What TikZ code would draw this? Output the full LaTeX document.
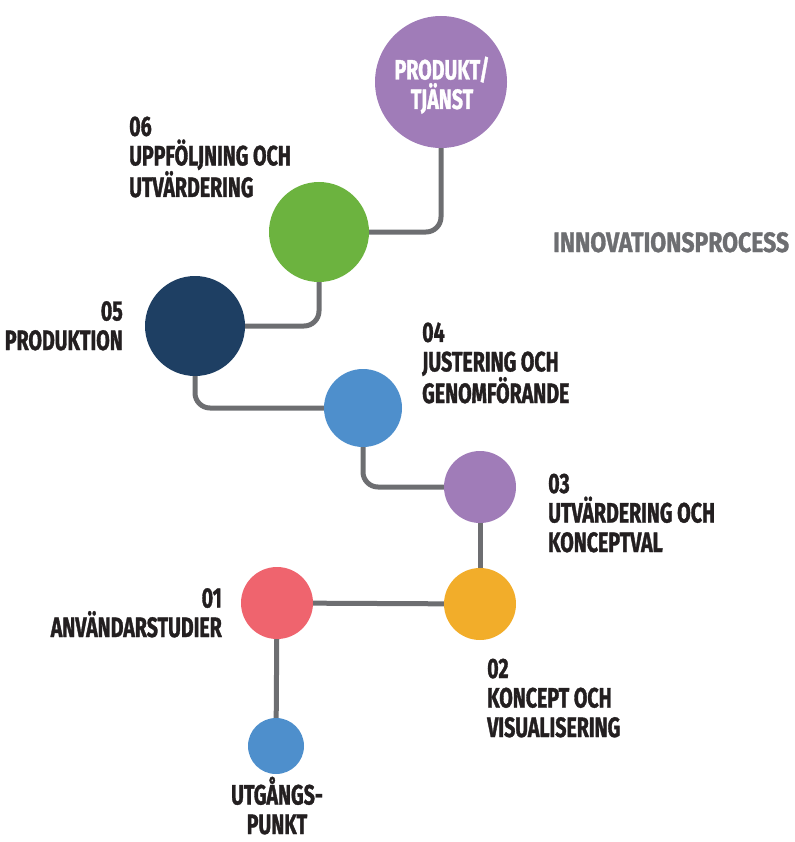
\documentclass[tikz,border=0pt]{standalone}
\usepackage{fontspec}
\newfontfamily\lblfont[FakeStretch=0.7,FakeBold=1.2]{Fira Sans}
\newfontfamily\ttlfont[FakeStretch=0.82,FakeBold=1.2]{Fira Sans}
\definecolor{cpurple}{HTML}{A07CB8}
\definecolor{cgreen}{HTML}{6CB33F}
\definecolor{cnavy}{HTML}{1E3F63}
\definecolor{cblue}{HTML}{4E8FCC}
\definecolor{corange}{HTML}{F2AD2A}
\definecolor{cred}{HTML}{EF646E}
\definecolor{cline}{HTML}{6D6E71}
\definecolor{ctext}{HTML}{231F20}
\begin{document}
\begin{tikzpicture}[x=1pt,y=-1pt,
  dot/.style={shape=circle,inner sep=0pt},
  lbl/.style={inner sep=0pt,text=ctext,font=\lblfont\bfseries\fontsize{28}{29.5}\selectfont},
  conn/.style={draw=cline,line width=5pt,rounded corners=15pt}]
\useasboundingbox (0,0) rectangle (794,842);
\node [dot,fill=cpurple,minimum size=132pt,name=n7] at (441,82){};
\node [dot,fill=cgreen,minimum size=100pt,name=n6] at (319,232){};
\node [dot,fill=cnavy,minimum size=100pt,name=n5] at (195,326){};
\node [dot,fill=cblue,minimum size=78pt,name=n4] at (363,408){};
\node [dot,fill=cpurple,minimum size=72pt,name=n3] at (480,487){};
\node [dot,fill=corange,minimum size=72pt,name=n2] at (480,604){};
\node [dot,fill=cred,minimum size=72pt,name=n1] at (277,603){};
\node [dot,fill=cblue,minimum size=56pt,name=n0] at (276,746){};
\draw[conn] (n7.south) |- (n6.east);
\draw[conn] (n6.south) |- (n5.east);
\draw[conn] (n5.south) |- (n4.west);
\draw[conn] (n4.south) |- (n3.west);
\draw[conn] (n3) -- (n2);
\draw[conn] (n2) -- (n1);
\draw[conn] (n1) -- (n0);
\node [lbl,text=white,align=center,anchor=base,name=t7] at (442,109){PRODUKT/\\TJÄNST};
\node [lbl,align=left,anchor=base west,name=t6] at (129,197){06\\UPPFÖLJNING OCH\\UTVÄRDERING};
\node [lbl,align=right,anchor=base east,name=t5] at (123,350){05\\PRODUKTION};
\node [lbl,align=left,anchor=base west,name=t4] at (422,403){04\\JUSTERING OCH\\GENOMFÖRANDE};
\node [lbl,align=left,anchor=base west,name=t3] at (548,552){03\\UTVÄRDERING OCH\\KONCEPTVAL};
\node [lbl,align=left,anchor=base west,name=t2] at (487,737){02\\KONCEPT OCH\\VISUALISERING};
\node [lbl,align=right,anchor=base east,name=t1] at (222,637){01\\ANVÄNDARSTUDIER};
\node [lbl,align=center,anchor=base,name=t0] at (277,834){UTGÅNGS-\\PUNKT};
\node [lbl,font=\ttlfont\bfseries\fontsize{28}{29.5}\selectfont,text=cline,anchor=base west,name=title] at (553,252){INNOVATIONSPROCESS};
\end{tikzpicture}
\end{document}
